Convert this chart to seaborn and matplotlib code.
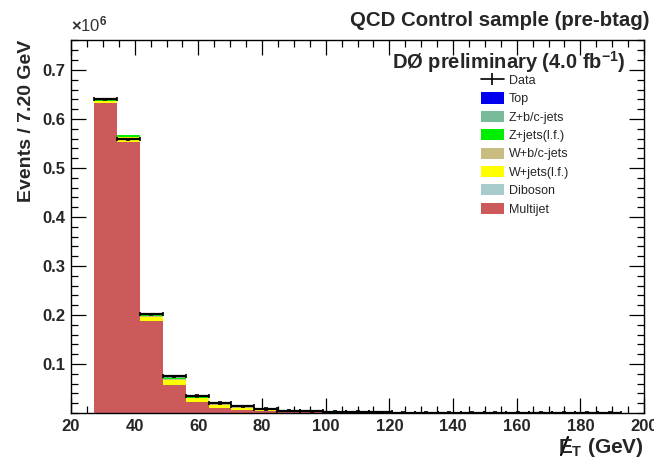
import numpy as np
import pandas as pd
import matplotlib
matplotlib.use("Agg")
import matplotlib.pyplot as plt
import matplotlib.patches as mpatches
from matplotlib.lines import Line2D
from matplotlib.ticker import MultipleLocator, FormatStrFormatter
import seaborn as sns

# ---- data (events in units of 1e6), 7.2 GeV bins from 20 to 200 ----
bin_edges = [20 + 7.2 * i for i in range(26)]
bin_centers = [20 + 7.2 * i + 3.6 for i in range(25)]

multijet = [0.0, 0.633, 0.553, 0.188, 0.057, 0.022, 0.011, 0.006, 0.0035, 0.002, 0.0012, 0.0008, 0.0005,
            0.0003, 0.0002, 0.0002, 0.0001, 0.0001, 0.0001, 0.0, 0.0, 0.0, 0.0, 0.0, 0.0]
wjets_lf = [0.0, 0.003, 0.009, 0.008, 0.011, 0.008, 0.006, 0.005, 0.003, 0.002, 0.0015, 0.001, 0.0008,
            0.0005, 0.0004, 0.0003, 0.0002, 0.0002, 0.0001, 0.0001, 0.0001, 0.0001, 0.0, 0.0, 0.0]
diboson = [0.0, 0.0001, 0.0002, 0.0002, 0.0002, 0.0002, 0.0001, 0.0001, 0.0001, 0.0, 0.0, 0.0, 0.0,
           0.0, 0.0, 0.0, 0.0, 0.0, 0.0, 0.0, 0.0, 0.0, 0.0, 0.0, 0.0]
wbc_jets = [0.0, 0.0005, 0.001, 0.001, 0.001, 0.001, 0.0008, 0.0006, 0.0005, 0.0003, 0.0002, 0.0002, 0.0001,
            0.0001, 0.0001, 0.0, 0.0, 0.0, 0.0, 0.0, 0.0, 0.0, 0.0, 0.0, 0.0]
zjets_lf = [0.0, 0.001, 0.004, 0.003, 0.003, 0.002, 0.0015, 0.001, 0.0008, 0.0005, 0.0003, 0.0002, 0.0001,
            0.0001, 0.0001, 0.0, 0.0, 0.0, 0.0, 0.0, 0.0, 0.0, 0.0, 0.0, 0.0]
zbc_jets = [0.0, 0.0002, 0.0005, 0.0004, 0.0004, 0.0003, 0.0002, 0.0002, 0.0001, 0.0001, 0.0, 0.0, 0.0,
            0.0, 0.0, 0.0, 0.0, 0.0, 0.0, 0.0, 0.0, 0.0, 0.0, 0.0, 0.0]
top = [0.0, 0.0001, 0.0001, 0.0001, 0.0001, 0.0001, 0.0001, 0.0001, 0.0, 0.0, 0.0, 0.0, 0.0,
       0.0, 0.0, 0.0, 0.0, 0.0, 0.0, 0.0, 0.0, 0.0, 0.0, 0.0, 0.0]
data = [0.0, 0.640, 0.558, 0.201, 0.075, 0.035, 0.020, 0.0135, 0.008, 0.005, 0.0033, 0.0023, 0.0016,
        0.0011, 0.0008, 0.0006, 0.0004, 0.0003, 0.0002, 0.0002, 0.0001, 0.0001, 0.0001, 0.0001, 0.0]

# stacking order bottom -> top
components = ["Multijet", "Diboson", "W+jets(l.f.)", "W+b/c-jets", "Z+jets(l.f.)", "Z+b/c-jets", "Top"]
comp_values = [multijet, diboson, wjets_lf, wbc_jets, zjets_lf, zbc_jets, top]
colors = {"Top": "#0000ee", "Z+b/c-jets": "#77bb99", "Z+jets(l.f.)": "#00ee00",
          "W+b/c-jets": "#c8bc80", "W+jets(l.f.)": "#ffff00", "Diboson": "#a8cccc",
          "Multijet": "#cc5a5a"}
legend_order = ["Top", "Z+b/c-jets", "Z+jets(l.f.)", "W+b/c-jets", "W+jets(l.f.)", "Diboson", "Multijet"]

rows = []
for name, vals in zip(components, comp_values):
    for c, v in zip(bin_centers, vals):
        rows.append({"x": c, "w": v, "sample": name})
df = pd.DataFrame(rows)

sns.set_style("white")
plt.rcParams["font.family"] = ["Liberation Sans", "DejaVu Sans"]
plt.rcParams["mathtext.fontset"] = "custom"
plt.rcParams["mathtext.rm"] = "Liberation Sans:bold"
plt.rcParams["mathtext.it"] = "Liberation Sans:bold"
plt.rcParams["mathtext.bf"] = "Liberation Sans:bold"

fig = plt.figure(figsize=(6.54, 4.59), dpi=100)
ax = fig.add_axes([71 / 654, 1 - 413 / 459, 573 / 654, 373 / 459])

# seaborn stacks the last hue level at the bottom -> pass reversed order
sns.histplot(data=df, x="x", weights="w", hue="sample", hue_order=components[::-1],
             bins=bin_edges, multiple="stack", element="step", fill=True,
             palette=colors, alpha=1.0, linewidth=0, legend=False, ax=ax)

# data points: horizontal bin-width error bars
dx = np.array(bin_centers)
dy = np.array(data)
mask = dy > 0
ax.errorbar(dx[mask], dy[mask], xerr=3.6, yerr=0.0015, fmt="none", ecolor="black",
            elinewidth=1.6, capsize=1.5, capthick=1.2, zorder=5)

ax.set_xlim(20, 200)
ax.set_ylim(0, 0.761)
ax.xaxis.set_major_locator(MultipleLocator(20))
ax.xaxis.set_minor_locator(MultipleLocator(5))
ax.set_yticks([0.1, 0.2, 0.3, 0.4, 0.5, 0.6, 0.7])
ax.yaxis.set_major_formatter(FormatStrFormatter("%.1f"))
ax.yaxis.set_minor_locator(MultipleLocator(0.02))
ax.tick_params(which="both", direction="in", top=True, right=True, bottom=True, left=True,
               labelsize=12, pad=4, color="black", width=0.9)
ax.tick_params(which="major", length=11)
ax.tick_params(which="minor", length=5)
for lab in ax.get_xticklabels() + ax.get_yticklabels():
    lab.set_fontweight("bold")
for s in ax.spines.values():
    s.set_color("black")
    s.set_linewidth(1.0)

ax.set_xlabel("")
ax.set_ylabel("Events / 7.20 GeV", fontsize=14, fontweight="bold", labelpad=8)
ax.yaxis.set_label_coords(-0.062, 1.0)
ax.yaxis.label.set_horizontalalignment("right")

# missing-ET axis title: E with a slash drawn across it
fig.text(0.985, 0.026, r"$E_\mathrm{T}$ (GeV)", fontsize=15, fontweight="bold", ha="right", va="center")
fig.add_artist(Line2D([561 / 654, 568 / 654], [1 - 455 / 459, 1 - 437 / 459],
                      transform=fig.transFigure, color="black", linewidth=1.6))
fig.text(0.108, 0.925, r"$\times$10$^{6}$", fontsize=12, ha="left", va="bottom", color="#333333")
fig.text(0.993, 0.955, "QCD Control sample (pre-btag)", fontsize=14.7, fontweight="bold",
         ha="right", va="center")
ax.text(0.968, 0.94, r"DØ preliminary (4.0 fb$^{-1}$)", transform=ax.transAxes,
        fontsize=14.5, fontweight="bold", ha="right", va="center")

handles = [Line2D([0], [0], color="black", marker="|", markersize=9, linewidth=1.2, mew=1.2)]
labels = ["Data"]
for name in legend_order:
    handles.append(mpatches.Patch(facecolor=colors[name], edgecolor="none"))
    labels.append(name)
fig.legend(handles, labels, loc="upper left", bbox_to_anchor=(476 / 654, 1 - 69 / 459),
           frameon=False, fontsize=9, handlelength=1.8, handleheight=1.0,
           labelspacing=0.44, handletextpad=0.4, borderaxespad=0)

fig.savefig("out.png", dpi=100)
